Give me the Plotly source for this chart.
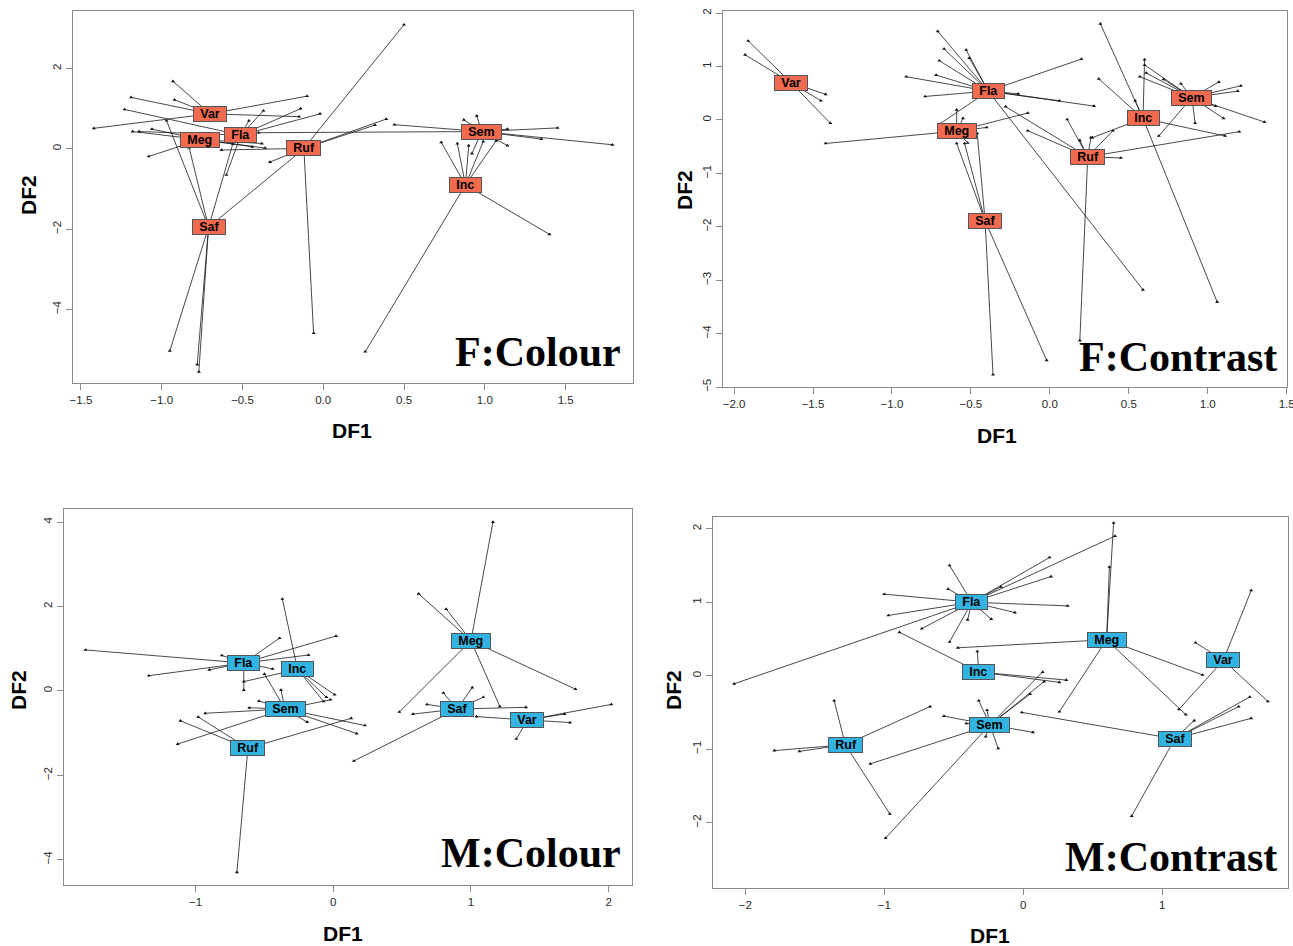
import plotly.graph_objects as go

W, H = 1293, 946

# ---------------- F:Colour ----------------
FC_cent_name = ["Var", "Meg", "Fla", "Ruf", "Saf", "Sem", "Inc"]
FC_cent_x = [-0.70, -0.76, -0.51, -0.12, -0.71, 0.98, 0.88]
FC_cent_y = [0.87, 0.23, 0.34, 0.01, -1.95, 0.43, -0.90]
FC_grp = (["Var"] * 6 + ["Fla"] * 7 + ["Meg"] * 6 + ["Ruf"] * 6 + ["Saf"] * 7
          + ["Sem"] * 10 + ["Inc"] * 7)
FC_x = [-0.93, -1.42, -0.10, -0.15, -1.19, -0.92,
        -1.23, -0.37, -0.14, -0.02, -1.14, -0.46, -0.60,
        -1.18, -1.06, -1.08, -0.44, -0.38, -0.36,
        -0.63, -0.33, 0.50, -0.06, 0.39, 0.32,
        -0.95, -0.78, -0.77, -0.97, -0.83, -0.56, -0.12,
        0.44, 0.87, 0.95, 1.14, 1.45, 1.35, 1.79, 1.14, 0.92, -0.40,
        0.73, 0.83, 0.90, 0.99, 1.07, 1.40, 0.26]
FC_y = [1.68, 0.51, 1.31, 0.80, 1.28, 1.22,
        0.98, 0.95, 1.00, 0.87, 0.43, 0.70, -0.65,
        0.43, 0.49, -0.19, 0.05, 0.13, 0.02,
        -0.03, -0.33, 3.09, -4.59, 0.74, 0.59,
        -5.03, -5.37, -5.55, 0.70, 0.03, 0.12, 0.00,
        0.60, 0.72, 0.82, 0.49, 0.52, 0.24, 0.10, 0.08, -0.12, 0.40,
        0.16, 0.13, 0.08, 0.18, 0.20, -2.13, -5.05]
FC_xticks = [-1.5, -1.0, -0.5, 0.0, 0.5, 1.0, 1.5]
FC_xticklabels = ["\u22121.5", "\u22121.0", "\u22120.5", "0.0", "0.5", "1.0", "1.5"]
FC_yticks = [-4, -2, 0, 2]
FC_yticklabels = ["\u22124", "\u22122", "0", "2"]

# ---------------- F:Contrast ----------------
FT_cent_name = ["Var", "Fla", "Meg", "Saf", "Ruf", "Inc", "Sem"]
FT_cent_x = [-1.64, -0.39, -0.59, -0.41, 0.24, 0.59, 0.90]
FT_cent_y = [0.70, 0.54, -0.21, -1.89, -0.69, 0.03, 0.42]
FT_grp = (["Var"] * 5 + ["Fla"] * 14 + ["Meg"] * 6 + ["Saf"] * 5 + ["Ruf"] * 9
          + ["Inc"] * 7 + ["Sem"] * 13)
FT_x = [-1.91, -1.93, -1.42, -1.45, -1.39,
        -0.71, -0.67, -0.53, -0.70, -0.51, -0.72, -0.91, -0.79, 0.20, 0.06, 0.28, -0.20, 0.59, -0.70,
        -1.42, -0.59, -0.55, -0.40, -0.52, -0.14,
        -0.59, -0.54, -0.46, -0.36, -0.02,
        -0.28, -0.14, 0.11, 0.19, 0.26, 0.40, 0.45, 1.20, 0.19,
        0.32, 0.31, 0.54, 0.60, 1.06, 1.11, 0.27,
        0.60, 0.61, 0.57, 0.72, 0.83, 1.07, 1.21, 1.19, 1.05, 1.10, 1.36, 0.92, 0.69]
FT_y = [1.48, 1.22, 0.48, 0.36, -0.06,
        1.66, 1.33, 1.31, 1.11, 1.16, 0.84, 0.81, 0.44, 1.14, 0.36, 0.26, 0.49, -3.18, -0.08,
        -0.44, 0.19, 0.03, -0.14, -0.43, 0.13,
        -0.44, -0.44, -0.25, -4.77, -4.50,
        0.25, -0.20, 0.01, -0.38, -0.33, -0.20, -0.71, -0.22, -4.13,
        1.80, 0.77, 0.36, 1.13, -3.41, -0.30, -0.33,
        1.03, 0.88, 0.81, 0.76, 0.68, 0.71, 0.64, 0.54, 0.26, 0.03, -0.04, -0.06, -0.30]
FT_xticks = [-2.0, -1.5, -1.0, -0.5, 0.0, 0.5, 1.0, 1.5]
FT_xticklabels = ["\u22122.0", "\u22121.5", "\u22121.0", "\u22120.5", "0.0", "0.5", "1.0", "1.5"]
FT_yticks = [-5, -4, -3, -2, -1, 0, 1, 2]
FT_yticklabels = ["\u22125", "\u22124", "\u22123", "\u22122", "\u22121", "0", "1", "2"]

# ---------------- M:Colour ----------------
MC_cent_name = ["Fla", "Inc", "Sem", "Ruf", "Meg", "Saf", "Var"]
MC_cent_x = [-0.65, -0.26, -0.35, -0.62, 1.00, 0.90, 1.41]
MC_cent_y = [0.66, 0.51, -0.43, -1.36, 1.19, -0.43, -0.69]
MC_grp = (["Fla"] * 9 + ["Inc"] * 5 + ["Sem"] * 10 + ["Ruf"] * 4 + ["Meg"] * 6
          + ["Saf"] * 7 + ["Var"] * 5)
MC_x = [-1.80, -1.34, -0.90, -0.81, -0.39, 0.02, -0.18, -0.65, -0.44,
        -0.37, 0.01, -0.07, -0.65, -0.05,
        -0.50, -0.38, -0.54, -0.61, -0.93, -1.13, -0.19, 0.17, 0.23, -0.02,
        -1.11, -0.98, -0.70, 0.13,
        1.16, 0.62, 0.82, 0.48, 1.76, 1.21,
        0.15, 0.58, 0.68, 0.80, 1.01, 1.09, 1.40,
        2.02, 1.68, 1.72, 1.33, 1.04]
MC_y = [0.97, 0.36, 0.50, 0.84, 1.25, 1.30, 0.85, 0.02, 0.52,
        2.18, -0.09, -0.25, 0.22, -0.15,
        0.40, 0.02, -0.24, -0.40, -0.53, -1.26, -0.74, -1.01, -0.82, -0.21,
        -0.71, -0.62, -4.30, -0.65,
        4.00, 2.30, 1.94, -0.50, 0.04, -0.37,
        -1.66, -0.55, -0.32, -0.05, 0.08, -0.15, -0.39,
        -0.32, -0.55, -0.75, -1.14, -0.61]
MC_xticks = [-1, 0, 1, 2]
MC_xticklabels = ["\u22121", "0", "1", "2"]
MC_yticks = [-4, -2, 0, 2, 4]
MC_yticklabels = ["\u22124", "\u22122", "0", "2", "4"]

# ---------------- M:Contrast ----------------
MT_cent_name = ["Fla", "Inc", "Sem", "Ruf", "Meg", "Var", "Saf"]
MT_cent_x = [-0.37, -0.32, -0.24, -1.28, 0.60, 1.44, 1.09]
MT_cent_y = [1.00, 0.05, -0.67, -0.94, 0.49, 0.21, -0.86]
MT_grp = (["Fla"] * 15 + ["Meg"] * 6 + ["Var"] * 4 + ["Saf"] * 6 + ["Inc"] * 4
          + ["Sem"] * 12 + ["Ruf"] * 5)
MT_x = [-0.53, -0.54, -1.00, -0.97, -0.73, -0.53, -0.40, -0.23, -2.08, 0.19, 0.20, 0.32, -0.06, 0.66, -0.16,
        0.65, 0.62, 0.26, 1.29, 1.17, -0.47,
        1.64, 1.24, 1.76, 1.12,
        1.63, 1.55, 1.64, 1.23, 0.78, -0.01,
        -0.89, -0.33, 0.26, 0.31,
        -0.57, -0.41, -1.10, -0.99, -0.18, -0.32, -0.26, -0.27, 0.14, 0.15, 0.07, 0.05,
        -1.36, -1.79, -1.61, -0.96, -0.67]
MT_y = [1.50, 1.18, 1.11, 0.82, 0.64, 0.46, 0.76, 0.77, -0.11, 1.61, 1.35, 0.95, 0.86, 1.90, 1.21,
        2.08, 1.48, -0.49, 0.01, -0.53, 0.38,
        1.16, 0.45, -0.35, -0.46,
        -0.29, -0.42, -0.58, -0.61, -1.91, -0.50,
        0.59, 0.33, -0.09, -0.06,
        -0.55, -0.65, -1.20, -2.21, -0.99, -0.34, -0.47, -0.83, 0.05, -0.08, -0.77, -0.25,
        -0.34, -1.02, -1.03, -1.88, -0.42]
MT_xticks = [-2, -1, 0, 1]
MT_xticklabels = ["\u22122", "\u22121", "0", "1"]
MT_yticks = [-2, -1, 0, 1, 2]
MT_yticklabels = ["\u22122", "\u22121", "0", "1", "2"]

F_FILL = "#F26A50"
M_FILL = "#33B3E1"

# panel pixel boxes: (left, top, right, bottom), axis ranges
panels = [
    dict(names=FC_cent_name, cx=FC_cent_x, cy=FC_cent_y, grp=FC_grp, px=FC_x, py=FC_y,
         xt=FC_xticks, xtl=FC_xticklabels, yt=FC_yticks, ytl=FC_yticklabels,
         box=(73, 11, 633, 383), xr=[-1.549, 1.917], yr=[-5.83, 3.43],
         fill=F_FILL, title="F:Colour", title_xy=(623, 352),
         df1=(352, 430), df2=(28, 195)),
    dict(names=FT_cent_name, cx=FT_cent_x, cy=FT_cent_y, grp=FT_grp, px=FT_x, py=FT_y,
         xt=FT_xticks, xtl=FT_xticklabels, yt=FT_yticks, ytl=FT_yticklabels,
         box=(723, 11, 1287, 387), xr=[-2.07, 1.502], yr=[-5.0, 2.04],
         fill=F_FILL, title="F:Contrast", title_xy=(1279, 357),
         df1=(997, 435), df2=(684, 190)),
    dict(names=MC_cent_name, cx=MC_cent_x, cy=MC_cent_y, grp=MC_grp, px=MC_x, py=MC_y,
         xt=MC_xticks, xtl=MC_xticklabels, yt=MC_yticks, ytl=MC_yticklabels,
         box=(64, 509, 632, 885), xr=[-1.956, 2.17], yr=[-4.6, 4.31],
         fill=M_FILL, title="M:Colour", title_xy=(623, 853),
         df1=(343, 933), df2=(18, 690)),
    dict(names=MT_cent_name, cx=MT_cent_x, cy=MT_cent_y, grp=MT_grp, px=MT_x, py=MT_y,
         xt=MT_xticks, xtl=MT_xticklabels, yt=MT_yticks, ytl=MT_yticklabels,
         box=(713, 517, 1288, 888), xr=[-2.232, 1.905], yr=[-2.89, 2.16],
         fill=M_FILL, title="M:Contrast", title_xy=(1279, 857),
         df1=(990, 935), df2=(673, 690)),
]

fig = go.Figure()
annotations = []
layout_axes = {}

for i, p in enumerate(panels, start=1):
    xa = "x" if i == 1 else f"x{i}"
    ya = "y" if i == 1 else f"y{i}"
    cpos = {n: (x, y) for n, x, y in zip(p["names"], p["cx"], p["cy"])}
    lx, ly = [], []
    for g, x, y in zip(p["grp"], p["px"], p["py"]):
        cx, cy = cpos[g]
        lx += [cx, x, None]
        ly += [cy, y, None]
    fig.add_trace(go.Scatter(x=lx, y=ly, mode="lines", xaxis=xa, yaxis=ya,
                             line=dict(color="#1a1a1a", width=0.8),
                             hoverinfo="skip", showlegend=False))
    fig.add_trace(go.Scatter(x=p["px"], y=p["py"], mode="markers", xaxis=xa, yaxis=ya,
                             marker=dict(symbol="triangle-up", size=3.5, color="#111"),
                             showlegend=False))
    for n, x, y in zip(p["names"], p["cx"], p["cy"]):
        annotations.append(dict(
            x=x, y=y, xref=xa, yref=ya, text="<b>\u2002" + n + "\u2002</b>",
            showarrow=False, bgcolor=p["fill"], bordercolor="#555555",
            borderwidth=1, borderpad=0,
            font=dict(family="Liberation Sans, Arial", size=12.5, color="black")))

    l, t, r, b = p["box"]
    xd = [l / W, r / W]
    yd = [1 - b / H, 1 - t / H]
    axkey = "xaxis" if i == 1 else f"xaxis{i}"
    aykey = "yaxis" if i == 1 else f"yaxis{i}"
    common = dict(showgrid=False, zeroline=False, showline=True, mirror=True,
                  linecolor="#8a8a8a", linewidth=1, ticks="outside", ticklen=6,
                  tickcolor="#8a8a8a", ticklabeloverflow="allow", automargin=False,
                  tickfont=dict(family="Liberation Sans, Arial", size=11.5, color="#2a2a2a"))
    layout_axes[axkey] = dict(domain=xd, range=p["xr"], anchor=ya, tickmode="array",
                              tickvals=p["xt"], ticktext=p["xtl"], **common)
    layout_axes[aykey] = dict(domain=yd, range=p["yr"], anchor=xa, tickmode="array",
                              tickvals=p["yt"], ticktext=p["ytl"], tickangle=-90, **common)

    tx, ty = p["title_xy"]
    annotations.append(dict(x=tx / W, y=1 - ty / H, xref="paper", yref="paper",
                            xanchor="right", yanchor="middle", showarrow=False,
                            text="<b>" + p["title"] + "</b>",
                            font=dict(family="Liberation Serif, Times New Roman",
                                      size=42, color="black")))
    dx, dy = p["df1"]
    annotations.append(dict(x=dx / W, y=1 - dy / H, xref="paper", yref="paper",
                            xanchor="center", yanchor="middle", showarrow=False,
                            text="<b>DF1</b>",
                            font=dict(family="Liberation Sans, Arial", size=21, color="black")))
    dx, dy = p["df2"]
    annotations.append(dict(x=dx / W, y=1 - dy / H, xref="paper", yref="paper",
                            xanchor="center", yanchor="middle", showarrow=False,
                            text="<b>DF2</b>", textangle=-90,
                            font=dict(family="Liberation Sans, Arial", size=21, color="black")))

fig.update_layout(width=W, height=H, margin=dict(l=0, r=0, t=0, b=0, autoexpand=False),
                  paper_bgcolor="white", plot_bgcolor="white",
                  annotations=annotations, showlegend=False, **layout_axes)

post = (
    "document.documentElement.style.margin='0px';"
    "document.documentElement.style.overflow='hidden';"
    "document.body.style.margin='0px';"
    "document.body.style.overflow='hidden';"
    "document.querySelectorAll('.main-svg').forEach(function(s){s.style.overflow='hidden';});"
    "var gd=document.getElementsByClassName('plotly-graph-div')[0];"
    "gd.style.overflow='hidden';"
)
fig.write_html("out.html", config={"displayModeBar": False}, post_script=post)
